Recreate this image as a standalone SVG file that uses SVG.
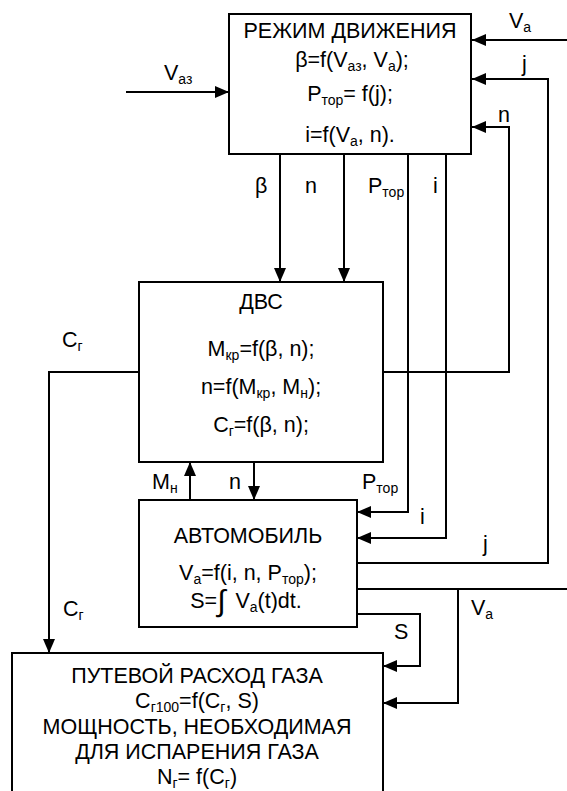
<svg xmlns="http://www.w3.org/2000/svg" width="567" height="791" viewBox="0 0 567 791">
<style>
.b{fill:#fff;stroke:#000;stroke-width:2}
.c{fill:none;stroke:#000;stroke-width:2}
text{font-family:"Liberation Sans",Arial,sans-serif;font-size:21.5px;fill:#000}
.m{text-anchor:middle}
.s{font-size:14px}
.int{font-size:30px}
</style>
<defs>
<marker id="ar" markerUnits="userSpaceOnUse" markerWidth="14" markerHeight="12" refX="14" refY="6" orient="auto">
<path d="M0,0 L14,6 L0,12 z" fill="#000"/>
</marker>
</defs>
<rect width="567" height="791" fill="#fff"/>
<g id="connectors" class="c" marker-end="url(#ar)">
<path d="M126,92 H229"/>
<path d="M567,40 H472"/>
<path d="M357,563 H548 V79 H472"/>
<path d="M383,372 H509 V127 H472"/>
<path d="M280,154 V282"/>
<path d="M344,154 V282"/>
<path d="M408,154 V512 H357"/>
<path d="M446,154 V538 H357"/>
<path d="M139,372 H49 V653"/>
<path d="M190,500 V462"/>
<path d="M254,462 V500"/>
<path d="M357,589 H567" marker-end="none"/>
<path d="M458,589 V703 H383"/>
<path d="M357,614 H420 V666 H383"/>
</g>
<g id="labels">
<text x="509" y="28">V<tspan class="s" dy="4">a</tspan></text>
<text x="522" y="71">j</text>
<text x="498" y="122">n</text>
<text x="164" y="80">V<tspan class="s" dy="4">аз</tspan></text>
<text x="255" y="193">β</text>
<text x="305" y="193">n</text>
<text x="368" y="193">P<tspan class="s" dy="4">тор</tspan></text>
<text x="433" y="193">i</text>
<text x="62" y="347">C<tspan class="s" dy="4">г</tspan></text>
<text x="152" y="489">M<tspan class="s" dy="4">н</tspan></text>
<text x="229" y="489">n</text>
<text x="362" y="489">P<tspan class="s" dy="4">тор</tspan></text>
<text x="420" y="524">i</text>
<text x="483" y="551">j</text>
<text x="471" y="615">V<tspan class="s" dy="4">a</tspan></text>
<text x="394" y="639">S</text>
<text x="63" y="616">C<tspan class="s" dy="4">г</tspan></text>
</g>
<g id="rezhim">
<rect class="b" x="229" y="14" width="242" height="140"/>
<text class="m" x="350" y="38">РЕЖИМ ДВИЖЕНИЯ</text>
<text class="m" x="352" y="67">β=f(V<tspan class="s" dy="4">аз</tspan><tspan dy="-4">, V</tspan><tspan class="s" dy="4">a</tspan><tspan dy="-4">);</tspan></text>
<text class="m" x="350" y="101">P<tspan class="s" dy="4">тор</tspan><tspan dy="-4">= f(j);</tspan></text>
<text class="m" x="350" y="142">i=f(V<tspan class="s" dy="4">a</tspan><tspan dy="-4">, n).</tspan></text>
</g>
<g id="dvs">
<rect class="b" x="139" y="282" width="244" height="180"/>
<text class="m" x="261" y="309">ДВС</text>
<text class="m" x="261" y="356">M<tspan class="s" dy="4">кр</tspan><tspan dy="-4">=f(β, n);</tspan></text>
<text class="m" x="261" y="394">n=f(M<tspan class="s" dy="4">кр</tspan><tspan dy="-4">, M</tspan><tspan class="s" dy="4">н</tspan><tspan dy="-4">);</tspan></text>
<text class="m" x="261" y="432">C<tspan class="s" dy="4">г</tspan><tspan dy="-4">=f(β, n);</tspan></text>
</g>
<g id="avto">
<rect class="b" x="139" y="500" width="218" height="127"/>
<text class="m" x="248" y="543">АВТОМОБИЛЬ</text>
<text class="m" x="248" y="580">V<tspan class="s" dy="4">a</tspan><tspan dy="-4">=f(i, n, P</tspan><tspan class="s" dy="4">тор</tspan><tspan dy="-4">);</tspan></text>
<text class="m" x="246" y="608">S=<tspan class="int" dy="3">∫</tspan><tspan dx="10" dy="-3">V</tspan><tspan class="s" dy="4">a</tspan><tspan dy="-4">(t)dt.</tspan></text>
</g>
<g id="rashod">
<rect class="b" x="12" y="653" width="371" height="160"/>
<text class="m" x="197" y="683">ПУТЕВОЙ РАСХОД ГАЗА</text>
<text class="m" x="197" y="708">C<tspan class="s" dy="4">г100</tspan><tspan dy="-4">=f(C</tspan><tspan class="s" dy="4">г</tspan><tspan dy="-4">, S)</tspan></text>
<text class="m" x="197" y="734">МОЩНОСТЬ, НЕОБХОДИМАЯ</text>
<text class="m" x="197" y="759">ДЛЯ ИСПАРЕНИЯ ГАЗА</text>
<text class="m" x="197" y="784">N<tspan class="s" dy="4">г</tspan><tspan dy="-4">= f(C</tspan><tspan class="s" dy="4">г</tspan><tspan dy="-4">)</tspan></text>
</g>
</svg>
